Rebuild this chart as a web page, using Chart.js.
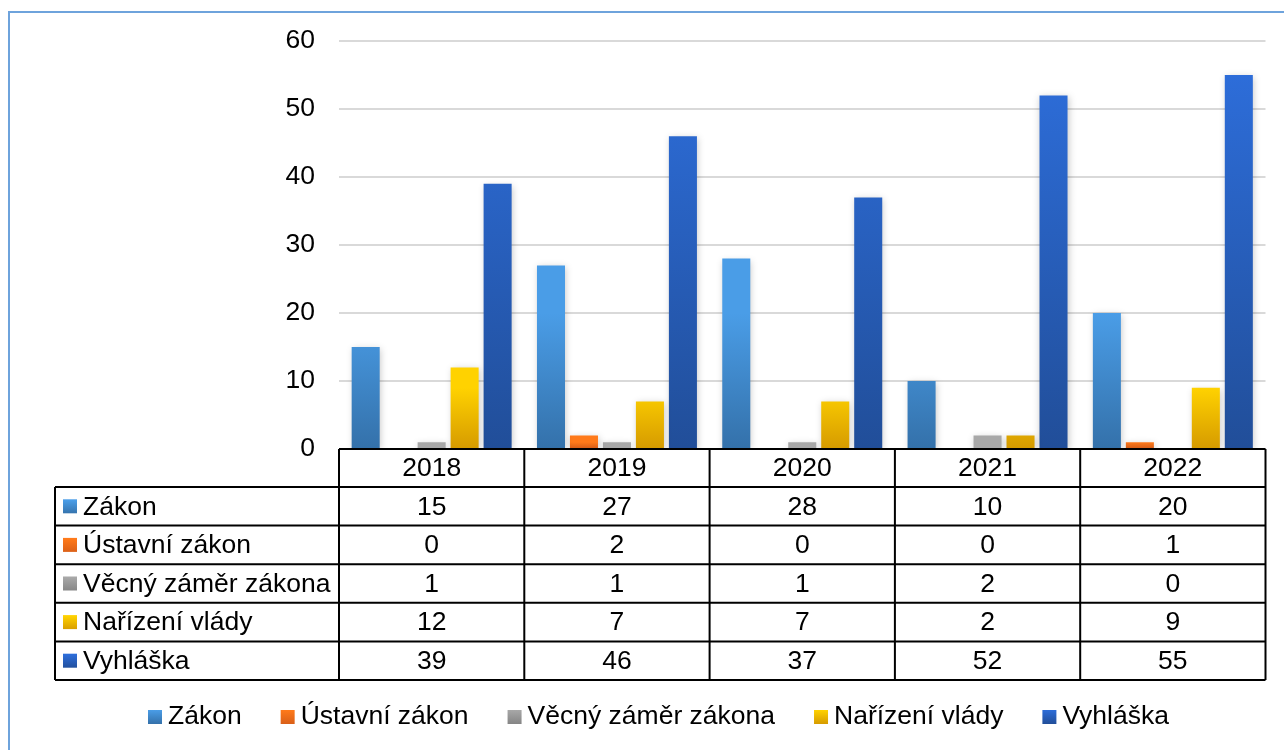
<!DOCTYPE html>
<html>
<head>
<meta charset="utf-8">
<script src="https://cdn.jsdelivr.net/npm/chart.js@4/dist/chart.umd.min.js"></script>
<style>
  html, body { margin: 0; padding: 0; background: #fff; }
  #wrap { position: absolute; left: 0; top: 0; width: 1284px; height: 750px; }
</style>
</head>
<body>
<div id="wrap"><canvas id="c" width="1284" height="750"></canvas></div>
<script>
// ---- data ----
const years = ['2018', '2019', '2020', '2021', '2022'];
const seriesNames = ['Zákon', 'Ústavní zákon', 'Věcný záměr zákona', 'Nařízení vlády', 'Vyhláška'];
const zakon    = [15, 27, 28, 10, 20];
const ustavni  = [0, 2, 0, 0, 1];
const vecny    = [1, 1, 1, 2, 0];
const narizeni = [12, 7, 7, 2, 9];
const vyhlaska = [39, 46, 37, 52, 55];
const yTicks   = [0, 10, 20, 30, 40, 50, 60];

// ---- styles ----
const FONT = "'Liberation Sans', Arial, sans-serif";
const FS = 26.5;
const gradients = [
  ['#4A9DE7', '#3471AA'],
  ['#FF7A1A', '#D95F18'],
  ['#A8A8A8', '#858585'],
  ['#FFD200', '#D69B00'],
  ['#2D6DD9', '#214E99']
];

const seriesData = [zakon, ustavni, vecny, narizeni, vyhlaska];

function vGrad(ctx, y0, y1, cols) {
  const g = ctx.createLinearGradient(0, y0, 0, Math.max(y1, y0 + 0.01));
  g.addColorStop(0, cols[0]);
  g.addColorStop(1, cols[1]);
  return g;
}

const framePlugin = {
  id: 'frame',
  beforeDraw(chart) {
    const ctx = chart.ctx;
    ctx.save();
    ctx.fillStyle = '#fff';
    ctx.fillRect(0, 0, chart.width, chart.height);
    ctx.fillStyle = '#6EA3DC';
    ctx.fillRect(8, 11, 2, chart.height - 11);
    ctx.fillRect(8, 11, chart.width - 8, 2);
    ctx.restore();
  }
};

const gradPlugin = {
  id: 'barGrad',
  beforeDatasetsDraw(chart) {
    const ctx = chart.ctx;
    chart.data.datasets.forEach((ds, i) => {
      const meta = chart.getDatasetMeta(i);
      meta.data.forEach(el => {
        el.options.backgroundColor = vGrad(ctx, el.y, el.base, gradients[i]);
      });
    });
  },
  beforeDatasetDraw(chart) {
    const ctx = chart.ctx;
    ctx.save();
    ctx.shadowColor = 'rgba(0,0,0,0.22)';
    ctx.shadowBlur = 7;
    ctx.shadowOffsetX = 1;
    ctx.shadowOffsetY = 2;
  },
  afterDatasetDraw(chart) {
    chart.ctx.restore();
  }
};

const tablePlugin = {
  id: 'dataTable',
  afterDraw(chart) {
    const ctx = chart.ctx;
    const area = chart.chartArea;
    const xs = chart.scales.x;
    const n = years.length;
    const half = (xs.getPixelForValue(1) - xs.getPixelForValue(0)) / 2;
    const bounds = [];
    for (let i = 0; i < n; i++) bounds.push(xs.getPixelForValue(i) - half);
    bounds.push(xs.getPixelForValue(n - 1) + half);
    const tableLeft = 55;
    const top = area.bottom;
    const headerH = 38;
    const rowH = 38.6;
    const rowsTop = top + headerH;
    const bottom = rowsTop + rowH * seriesNames.length;

    ctx.save();
    ctx.strokeStyle = '#000';
    ctx.lineWidth = 2;
    ctx.beginPath();
    ctx.moveTo(bounds[0], top); ctx.lineTo(bounds[n], top);
    for (let r = 0; r <= seriesNames.length; r++) {
      const y = rowsTop + r * rowH;
      ctx.moveTo(tableLeft, y); ctx.lineTo(bounds[n], y);
    }
    bounds.forEach(x => { ctx.moveTo(x, top); ctx.lineTo(x, bottom); });
    ctx.moveTo(tableLeft, rowsTop); ctx.lineTo(tableLeft, bottom);
    ctx.stroke();

    ctx.fillStyle = '#000';
    ctx.font = FS + 'px ' + FONT;
    ctx.textBaseline = 'middle';
    ctx.textAlign = 'center';
    years.forEach((yr, i) => {
      ctx.fillText(yr, (bounds[i] + bounds[i + 1]) / 2, top + headerH / 2 + 1);
    });
    seriesNames.forEach((name, r) => {
      const cy = rowsTop + r * rowH + rowH / 2 + 1;
      seriesData[r].forEach((v, i) => {
        ctx.textAlign = 'center';
        ctx.fillStyle = '#000';
        ctx.fillText(String(v), (bounds[i] + bounds[i + 1]) / 2, cy);
      });
      const sq = 14;
      ctx.fillStyle = vGrad(ctx, cy - sq / 2, cy + sq / 2, gradients[r]);
      ctx.fillRect(63, cy - sq / 2 - 1, sq, sq);
      ctx.fillStyle = '#000';
      ctx.textAlign = 'left';
      ctx.fillText(name, 83, cy);
    });

    // legend
    let x = 148;
    const ly = 717;
    ctx.textAlign = 'left';
    seriesNames.forEach((name, r) => {
      const sq = 14;
      ctx.fillStyle = vGrad(ctx, ly - sq / 2, ly + sq / 2, gradients[r]);
      ctx.fillRect(x, ly - sq / 2, sq, sq);
      ctx.fillStyle = '#000';
      ctx.fillText(name, x + 20, ly);
      x += 20 + ctx.measureText(name).width + 39;
    });
    ctx.restore();
  }
};

const chart = new Chart(document.getElementById('c'), {
  type: 'bar',
  data: {
    labels: years,
    datasets: seriesNames.map((name, i) => ({
      label: name,
      data: seriesData[i],
      backgroundColor: gradients[i][0],
      borderWidth: 0,
      categoryPercentage: 0.89,
      barPercentage: 0.85
    }))
  },
  options: {
    responsive: false,
    animation: false,
    devicePixelRatio: 1,
    layout: { padding: { left: 0, right: 18.5, top: 41, bottom: 301 } },
    plugins: { legend: { display: false }, tooltip: { enabled: false } },
    scales: {
      x: {
        grid: { display: false },
        border: { display: false },
        ticks: { display: false },
        afterFit(s) { s.height = 0; }
      },
      y: {
        min: 0,
        max: 60,
        afterFit(s) { s.width = 339; },
        afterBuildTicks(s) { s.ticks = yTicks.map(v => ({ value: v })); },
        grid: { color: '#D9D9D9', lineWidth: 2, drawTicks: false },
        border: { display: false },
        ticks: {
          padding: 24,
          color: '#000',
          font: { family: FONT, size: FS }
        }
      }
    }
  },
  plugins: [framePlugin, gradPlugin, tablePlugin]
});
</script>
</body>
</html>
